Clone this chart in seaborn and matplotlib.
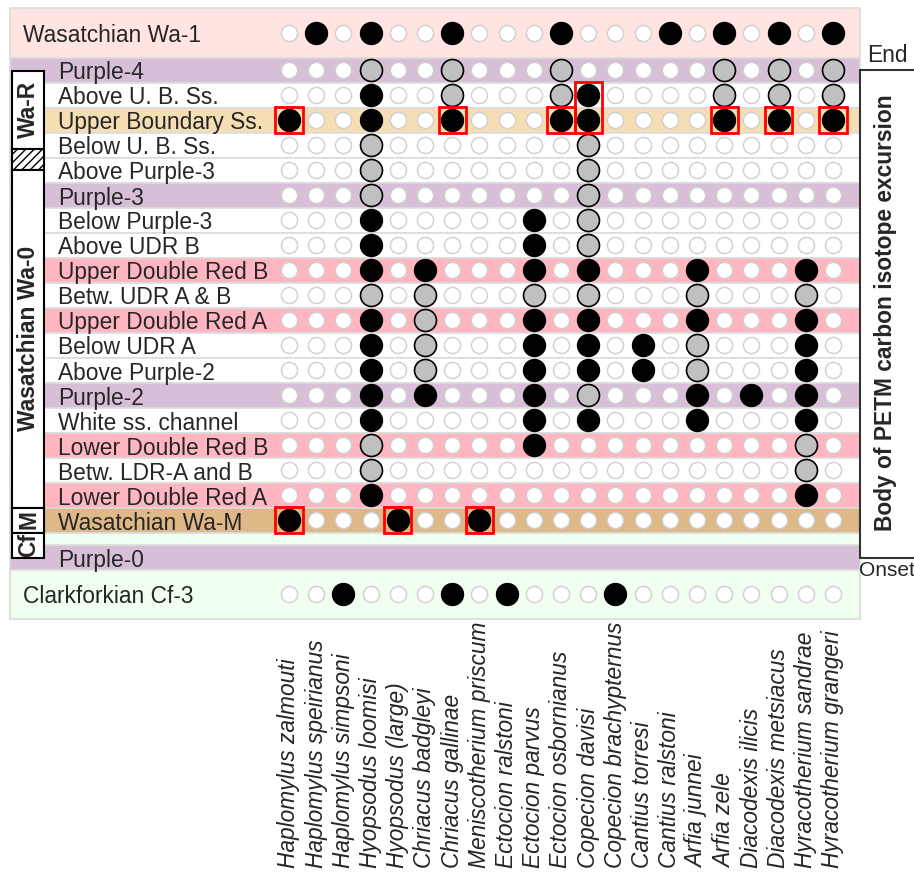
import matplotlib
matplotlib.use("Agg")
import matplotlib.pyplot as plt
from matplotlib.patches import Rectangle
import pandas as pd
import seaborn as sns

# ---- data ---------------------------------------------------------------
species = [
    "Haplomylus zalmouti", "Haplomylus speirianus", "Haplomylus simpsoni",
    "Hyopsodus loomisi", "Hyopsodus (large)", "Chriacus badgleyi",
    "Chriacus gallinae", "Meniscotherium priscum", "Ectocion ralstoni",
    "Ectocion parvus", "Ectocion osbornianus", "Copecion davisi",
    "Copecion brachypternus", "Cantius torresi", "Cantius ralstoni",
    "Arfia junnei", "Arfia zele", "Diacodexis ilicis",
    "Diacodexis metsiacus", "Hyracotherium sandrae", "Hyracotherium grangeri",
]

levels = [
    "Wasatchian Wa-1", "Purple-4", "Above U. B. Ss.", "Upper Boundary Ss.",
    "Below U. B. Ss.", "Above Purple-3", "Purple-3", "Below Purple-3",
    "Above UDR B", "Upper Double Red B", "Betw. UDR A & B",
    "Upper Double Red A", "Below UDR A", "Above Purple-2", "Purple-2",
    "White ss. channel", "Lower Double Red B", "Betw. LDR-A and B",
    "Lower Double Red A", "Wasatchian Wa-M", "Purple-0", "Clarkforkian Cf-3",
]

# species (column index) recorded at each level
recorded = [
    [1, 3, 6, 10, 14, 16, 18, 20],
    [],
    [3, 11],
    [0, 3, 6, 10, 11, 16, 18, 20],
    [], [], [],
    [3, 9],
    [3, 9],
    [3, 5, 9, 11, 15, 19],
    [],
    [3, 9, 11, 15, 19],
    [3, 9, 11, 13, 19],
    [3, 9, 11, 13, 19],
    [3, 5, 9, 15, 17, 19],
    [3, 9, 11, 15, 19],
    [9],
    [],
    [3, 19],
    [0, 4, 7],
    [],
    [2, 6, 8, 12],
]

# range-through (inferred) presence at each level
inferred = [
    [],
    [3, 6, 10, 16, 18, 20],
    [6, 10, 16, 18, 20],
    [],
    [3, 11], [3, 11], [3, 11],
    [11],
    [11],
    [],
    [3, 5, 9, 11, 15, 19],
    [5],
    [5, 15],
    [5, 15],
    [11],
    [],
    [3, 19],
    [3, 19],
    [],
    [],
    [],
    [],
]

# levels without a sample
unsampled = ["Purple-0"]

# first appearances highlighted: (level, species index, number of levels)
first_appearances = [
    ("Upper Boundary Ss.", 0, 1), ("Upper Boundary Ss.", 6, 1),
    ("Upper Boundary Ss.", 10, 1), ("Above U. B. Ss.", 11, 2),
    ("Upper Boundary Ss.", 16, 1), ("Upper Boundary Ss.", 18, 1),
    ("Upper Boundary Ss.", 20, 1),
    ("Wasatchian Wa-M", 0, 1), ("Wasatchian Wa-M", 4, 1),
    ("Wasatchian Wa-M", 7, 1),
]

# ---- style ---------------------------------------------------------------
sns.set_style("white")
plt.rcParams["font.family"] = ["Liberation Sans", "DejaVu Sans"]
plt.rcParams["hatch.linewidth"] = 1.0
FS = 16.4

band_color = {
    "Wasatchian Wa-1": "mistyrose", "Purple-4": "thistle",
    "Upper Boundary Ss.": "wheat", "Purple-3": "thistle",
    "Upper Double Red B": "lightpink", "Upper Double Red A": "lightpink",
    "Purple-2": "thistle", "Lower Double Red B": "lightpink",
    "Lower Double Red A": "lightpink", "Wasatchian Wa-M": "burlywood",
    "Purple-0": "thistle", "Clarkforkian Cf-3": "honeydew",
}

# vertical position of each level (one unit per interior level)
row_y = {"Wasatchian Wa-1": -1.48, "Purple-0": 19.5, "Clarkforkian Cf-3": 20.95}
for k, name in enumerate(levels[1:20]):
    row_y[name] = k
band_extent = {"Wasatchian Wa-1": (-2.48, -0.5), "Purple-0": (19.0, 20.0),
               "Clarkforkian Cf-3": (20.0, 21.95)}
for k, name in enumerate(levels[1:20]):
    band_extent[name] = (k - 0.5, k + 0.5)

W, H = 914, 881
X0, DX = 289.0, 27.2   # pixel of first column, column pitch
Y0, DY = 70.0, 25.0    # pixel of first interior level, level pitch


def px_x(p):
    return (p - X0) / DX


fig = plt.figure(figsize=(W / 100, H / 100), dpi=100)
ax = fig.add_axes([0, 0, 1, 1])

left, right = px_x(10), px_x(860)

# level bands
for name in levels:
    y0, y1 = band_extent[name]
    ax.add_patch(Rectangle((left, y0), right - left, y1 - y0,
                           facecolor=band_color.get(name, "white"),
                           edgecolor="#dcdcdc", lw=1.2, zorder=0))
ax.add_patch(Rectangle((left, 18.5), right - left, 0.5, facecolor="honeydew",
                       edgecolor="#dcdcdc", lw=1.2, zorder=0))

# occurrence table
records = []
for name, rec, inf in zip(levels, recorded, inferred):
    if name in unsampled:
        continue
    for c, sp in enumerate(species):
        state = "recorded" if c in rec else ("inferred" if c in inf else "absent")
        records.append({"species": sp, "col": c, "level": name,
                        "y": row_y[name], "state": state})
occ = pd.DataFrame(records)

sns.scatterplot(data=occ[occ.state == "absent"], x="col", y="y", s=135,
                color="white", edgecolor="#cfcfcf", linewidth=1.0,
                legend=False, ax=ax, zorder=3)
sns.scatterplot(data=occ[occ.state == "inferred"], x="col", y="y", s=250,
                color="silver", edgecolor="black", linewidth=1.2,
                legend=False, ax=ax, zorder=3)
sns.scatterplot(data=occ[occ.state == "recorded"], x="col", y="y", s=250,
                color="black", edgecolor="black", linewidth=1.0,
                legend=False, ax=ax, zorder=3)

# first-appearance boxes
for name, c, n in first_appearances:
    y = row_y[name]
    ax.add_patch(Rectangle((c - 0.5, y - 0.52), 1.0, n + 0.04,
                           facecolor="none", edgecolor="red", lw=2.0, zorder=4))

# level labels
for name in levels:
    xpos = px_x(23) if name in ("Wasatchian Wa-1", "Clarkforkian Cf-3") else px_x(58)
    ax.text(xpos, row_y[name] + 0.02, name, ha="left", va="center_baseline",
            fontsize=FS)

# species labels
for c, sp in enumerate(species):
    ax.text(c, (868 - Y0) / DY, sp, rotation=90, ha="center", va="bottom",
            style="italic", fontsize=FS)

# biozone column on the left
bx0, bx1 = px_x(12), px_x(44)
zones = [(0.04, 3.15, "Wa-R", None), (3.15, 4.0, "", "////"),
         (4.0, 17.5, "Wasatchian Wa-0", None), (17.5, 18.5, "M", None),
         (18.5, 19.5, "Cf", None)]
for y0, y1, lab, hatch in zones:
    ax.add_patch(Rectangle((bx0, y0), bx1 - bx0, y1 - y0, facecolor="white",
                           edgecolor="black", lw=1.5, hatch=hatch, zorder=5))
    if lab:
        ax.text((bx0 + bx1) / 2 + 0.03, (y0 + y1) / 2, lab, rotation=90,
                ha="center", va="center", fontsize=FS, fontweight="bold",
                zorder=6)

# carbon isotope excursion bracket on the right
ax.add_patch(Rectangle((px_x(860), 0.0), 5.0, 19.5, facecolor="white",
                       edgecolor="#333333", lw=1.5, zorder=5, clip_on=False))
ax.text(px_x(886), 9.72, "Body of PETM carbon isotope excursion", rotation=90,
        ha="center", va="center", fontsize=FS, fontweight="bold", zorder=6)
ax.text(px_x(887), -0.12, "End", ha="center", va="bottom", fontsize=FS)
ax.text(px_x(859), 19.62, "Onset", ha="left", va="top", fontsize=15)

ax.set_xlim(px_x(0), px_x(W))
ax.set_ylim((H - Y0) / DY, -Y0 / DY)
ax.axis("off")

fig.savefig("out.png", dpi=100, facecolor="white")
